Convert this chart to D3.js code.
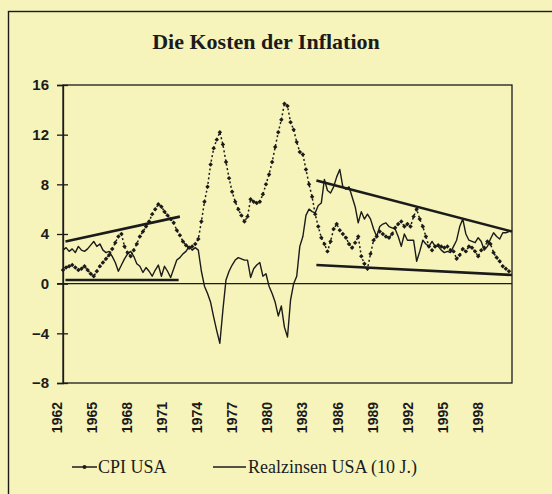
<!DOCTYPE html>
<html>
<head>
<meta charset="utf-8">
<script src="https://cdn.jsdelivr.net/npm/d3@7"></script>
<style>
  body { margin: 0; background: #f6f4bb; }
  svg { display: block; }
</style>
</head>
<body>
<div id="chart"></div>
<script>
let totalWidth = 552, totalHeight = 494;
let plot = { left: 63, right: 512, top: 85, bottom: 383 };

// x axis labels and y ticks
const tickYears = ["1962", "1965", "1968", "1971", "1974", "1977", "1980",
  "1983", "1986", "1989", "1992", "1995", "1998"];
const yTicks = [16, 12, 8, 4, 0, -4, -8];
const startYear = 1962;

// CPI USA, quarterly, % yoy
const cpiUSA = [
  1.1, 1.3, 1.4, 1.5,   1.3, 1.1, 1.2, 1.4,   1.1, 0.8, 0.6, 1.0,
  1.4, 1.7, 2.0, 2.3,   2.8, 3.3, 3.8, 4.0,   3.0, 2.5, 2.2, 2.7,
  3.2, 3.8, 4.2, 4.6,   5.0, 5.6, 6.0, 6.4,   6.2, 5.8, 5.5, 5.2,
  4.9, 4.3, 3.9, 3.4,   3.1, 2.9, 3.0, 3.2,   3.6, 5.0, 6.6, 7.8,
  9.6, 10.9, 11.6, 12.2, 11.2, 9.8, 8.5, 7.4, 6.6, 6.0, 5.5, 5.0,
  5.4, 6.8, 6.6, 6.5,   6.6, 7.2, 8.0, 8.8,   9.8, 11.0, 12.2, 13.2,
  14.5, 14.3, 13.0, 12.4, 11.4, 10.6, 10.4, 9.2, 8.0, 7.0, 5.6, 4.6,
  3.7, 3.2, 2.6, 3.4,   4.4, 4.8, 4.3, 4.0,   3.7, 3.2, 2.9, 3.3,
  3.8, 2.2, 1.6, 1.2,   2.4, 3.5, 3.8, 4.2,   4.0, 3.8, 3.7, 4.0,
  4.5, 4.8, 5.0, 4.6,   4.8, 4.6, 5.4, 6.0,   5.2, 4.6, 3.8, 3.0,
  2.7, 3.0, 3.1, 3.0,   2.9, 3.0, 2.7, 2.6,   2.0, 2.3, 2.8, 2.6,
  3.0, 2.9, 2.6, 2.2,   2.7, 2.9, 3.4, 3.2,   2.5, 2.1, 1.8, 1.4,
  1.2, 1.0
];

// Realzinsen USA (10 J.), quarterly, %
const realRates = [
  2.7, 2.9, 2.6, 2.8,   2.5, 3.0, 2.7, 2.6,   2.8, 3.1, 3.4, 3.0,
  3.2, 2.7, 2.5, 2.6,   2.2, 1.7, 1.0, 1.5,   2.0, 2.4, 2.6, 2.2,
  1.6, 1.4, 0.9, 1.3,   1.0, 0.6, 1.1, 1.5,   0.6, 1.4, 1.0, 0.5,
  1.2, 1.9, 2.1, 2.4,   2.6, 3.0, 2.7, 2.9,   2.7, 1.0, -0.2, -0.8,
  -1.5, -2.7, -3.8, -4.8, -2.1, 0.3, 1.0, 1.5, 1.9, 2.1, 2.0, 1.9,
  1.9, 0.5, 1.2, 1.5,   1.7, 0.6, 0.8, -0.2,  -0.8, -1.5, -2.6, -1.8,
  -3.5, -4.3, -1.3, 0.0, 0.6, 3.0, 3.8, 5.5,  6.0, 5.8, 5.7, 6.3,
  6.5, 8.4, 7.5, 7.3,   7.8, 8.6, 9.2, 7.8,   7.6, 7.8, 7.0, 6.2,
  4.9, 5.8, 5.2, 5.6,   5.2, 4.4, 3.8, 4.6,   4.8, 4.9, 4.6, 4.5,
  4.4, 3.8, 3.0, 4.0,   3.5, 3.5, 3.5, 1.8,   2.6, 3.5, 3.2, 3.0,
  3.4, 3.0, 3.0, 2.7,   2.5, 2.6, 2.5, 3.0,   3.5, 4.6, 5.2, 4.0,
  3.5, 3.4, 3.3, 3.7,   3.4, 2.7, 3.0, 3.6,   4.1, 3.8, 3.6, 4.1,
  4.1, 4.2
];

// hand-drawn trend lines [year, value]
const trendEarlyTop = [[1962.2, 3.4], [1971.5, 5.4]];
const trendEarlyBottom = [[1962.2, 0.3], [1971.4, 0.3]];
const trendLateTop = [[1982.6, 8.3], [1998.5, 4.2]];
const trendLateBottom = [[1982.6, 1.5], [1998.5, 0.7]];

function plotChart() {
  const svg = d3.select("#chart")
    .append("svg")
    .attr("width", totalWidth)
    .attr("height", totalHeight);

  const ink = "#1b1b1b";

  // outer frame (runs off the right and bottom edge of the scan)
  svg.append("rect")
    .attr("x", 8.5).attr("y", 11.5)
    .attr("width", 560).attr("height", 500)
    .attr("fill", "none").attr("stroke", ink).attr("stroke-width", 1.4);

  svg.append("text")
    .attr("x", 266)
    .attr("y", 49)
    .attr("text-anchor", "middle")
    .attr("font-family", "Liberation Serif, serif")
    .attr("font-weight", "bold")
    .attr("font-size", "22px")
    .attr("fill", ink)
    .text("Die Kosten der Inflation");

  const x = d3.scaleLinear()
    .domain([1962, 1998.5])
    .range([plot.left, plot.right]);

  const y = d3.scaleLinear()
    .domain([-8, 16])
    .range([plot.bottom, plot.top]);

  // label positions along the category axis
  const xLabel = d3.scalePoint()
    .domain(tickYears)
    .range([57, 478]);

  // plot border
  svg.append("rect")
    .attr("x", plot.left).attr("y", plot.top)
    .attr("width", plot.right - plot.left)
    .attr("height", plot.bottom - plot.top)
    .attr("fill", "none").attr("stroke", ink).attr("stroke-width", 1.3);

  // y axis with crossing ticks
  const yAxis = svg.append("g")
    .attr("transform", `translate(${plot.left}, 0)`)
    .call(d3.axisLeft(y).tickValues(yTicks).tickSize(6).tickPadding(8));
  yAxis.select(".domain").attr("stroke", ink).attr("stroke-width", 1.3);
  yAxis.selectAll(".tick line")
    .attr("x1", 5).attr("x2", -6)
    .attr("stroke", ink).attr("stroke-width", 1.3);
  yAxis.selectAll(".tick text")
    .attr("font-family", "Liberation Sans, sans-serif")
    .attr("font-weight", "bold")
    .attr("font-size", "15px")
    .attr("fill", ink);

  // zero line
  svg.append("line")
    .attr("x1", 57).attr("x2", plot.right)
    .attr("y1", y(0)).attr("y2", y(0))
    .attr("stroke", ink).attr("stroke-width", 1.3);

  // x labels, rotated
  svg.append("g")
    .selectAll("text")
    .data(tickYears)
    .enter()
    .append("text")
    .attr("transform", d => `translate(${xLabel(d)}, 402) rotate(-90)`)
    .attr("text-anchor", "end")
    .attr("dy", "0.35em")
    .attr("font-family", "Liberation Sans, sans-serif")
    .attr("font-weight", "bold")
    .attr("font-size", "14px")
    .attr("fill", ink)
    .text(d => d);

  const t = i => startYear + i / 4;

  // trend lines
  const trendLine = d3.line().x(d => x(d[0])).y(d => y(d[1]));
  [trendEarlyTop, trendEarlyBottom, trendLateTop, trendLateBottom].forEach(tl => {
    svg.append("path")
      .attr("d", trendLine(tl))
      .attr("fill", "none")
      .attr("stroke", ink)
      .attr("stroke-width", 2.6);
  });

  // real rates
  svg.append("path")
    .attr("d", d3.line().x((d, i) => x(t(i))).y(d => y(d))(realRates))
    .attr("fill", "none")
    .attr("stroke", ink)
    .attr("stroke-width", 1.4)
    .attr("stroke-linejoin", "round");

  // CPI: dotted line with small diamond markers
  svg.append("path")
    .attr("d", d3.line().x((d, i) => x(t(i))).y(d => y(d))(cpiUSA))
    .attr("fill", "none")
    .attr("stroke", ink)
    .attr("stroke-width", 1.5)
    .attr("stroke-dasharray", "2,2.5");

  svg.append("g")
    .selectAll("path")
    .data(cpiUSA)
    .enter()
    .append("path")
    .attr("d", d3.symbol(d3.symbolSquare, 10))
    .attr("transform", (d, i) => `translate(${x(t(i))}, ${y(d)}) rotate(45)`)
    .attr("fill", ink);

  // legend
  const legend = svg.append("g")
    .attr("font-family", "Liberation Serif, serif")
    .attr("font-size", "18px")
    .attr("fill", ink);

  legend.append("line")
    .attr("x1", 72).attr("x2", 97).attr("y1", 467).attr("y2", 467)
    .attr("stroke", ink).attr("stroke-width", 1.5);
  legend.append("circle")
    .attr("cx", 84.5).attr("cy", 467).attr("r", 2).attr("fill", ink);
  legend.append("text").attr("x", 98).attr("y", 473).text("CPI USA");

  legend.append("line")
    .attr("x1", 213).attr("x2", 246).attr("y1", 467).attr("y2", 467)
    .attr("stroke", ink).attr("stroke-width", 1.3);
  legend.append("text").attr("x", 248).attr("y", 473).text("Realzinsen USA (10 J.)");
}

plotChart();
</script>
</body>
</html>
